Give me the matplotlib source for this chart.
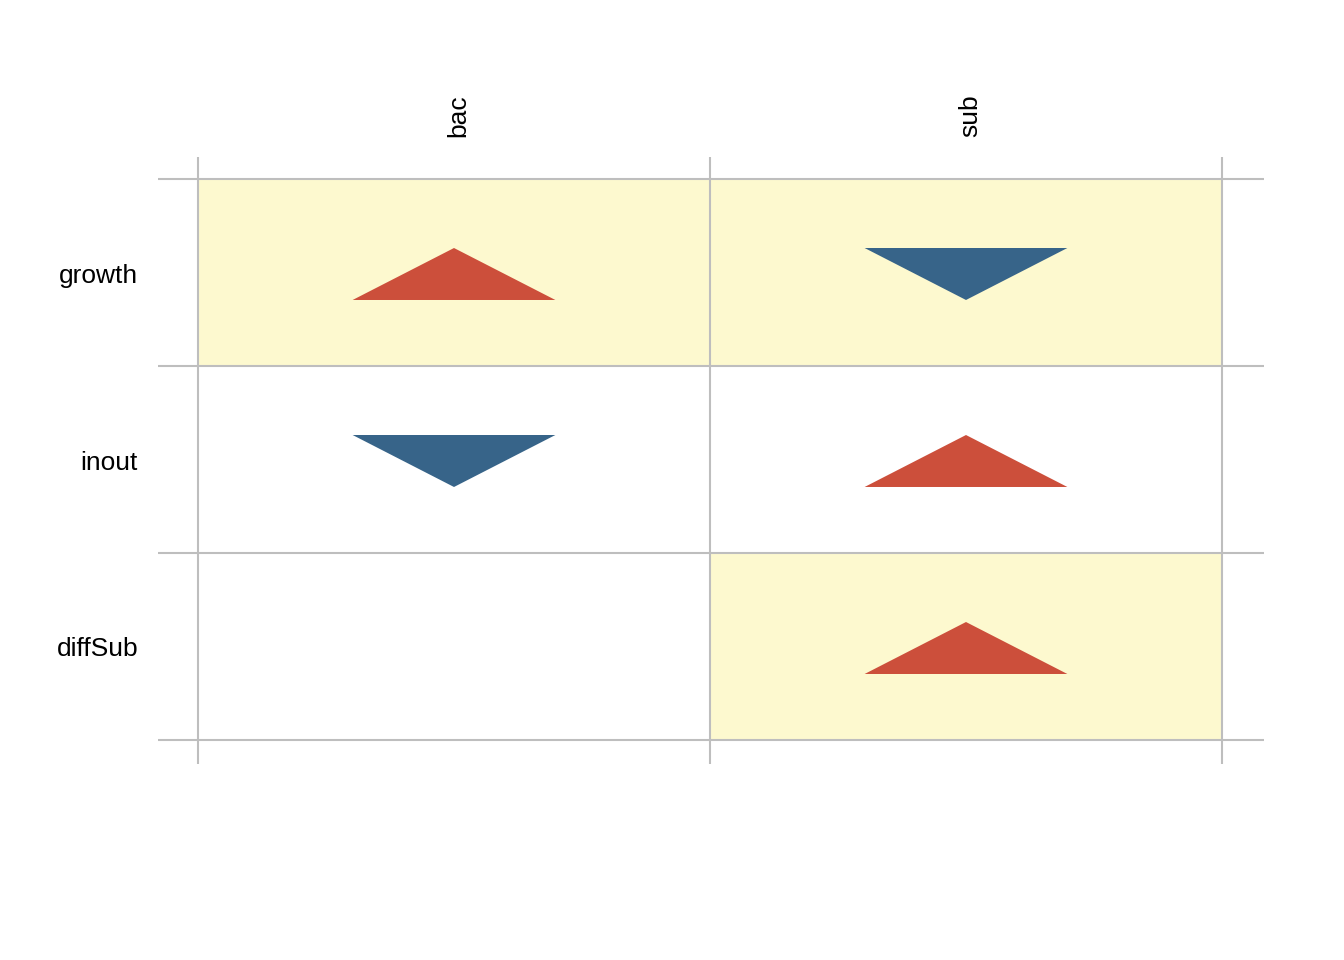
import numpy as np
import matplotlib
matplotlib.use("Agg")
import matplotlib.pyplot as plt
from matplotlib.patches import Polygon, Rectangle

plt.rcParams['font.family'] = ['Liberation Sans', 'DejaVu Sans']

cols = ['bac', 'sub']
rows = ['growth', 'inout', 'diffSub']
# +1 = up (red), -1 = down (blue), 0 = nothing
direction = [[1, -1],
             [-1, 1],
             [0, 1]]
# highlighted cells (yellow background)
highlight = [[1, 1],
             [0, 0],
             [0, 1]]

up_col = '#CC4F3B'
down_col = '#376489'
bg_col = '#FDF9CF'
grid_col = '#BEBEBE'

W, H = 1344, 960
fig = plt.figure(figsize=(W / 100, H / 100), dpi=100)
ax = fig.add_axes([198 / W, 220 / H, 1024 / W, 561 / H])
ax.set_xlim(0, len(cols))
ax.set_ylim(len(rows), 0)
ax.axis('off')

half_w = 0.198
half_h = 0.139
shift = 0.008

for i, r in enumerate(rows):
    for j, c in enumerate(cols):
        if highlight[i][j]:
            ax.add_patch(Rectangle((j, i), 1, 1, fc=bg_col, ec='none', zorder=0))
        d = direction[i][j]
        cx, cy = j + 0.5, i + 0.5 + shift
        if d > 0:
            pts = [(cx - half_w, cy + half_h), (cx + half_w, cy + half_h), (cx, cy - half_h)]
            ax.add_patch(Polygon(pts, closed=True, fc=up_col, ec='none', zorder=2))
        elif d < 0:
            pts = [(cx - half_w, cy - half_h), (cx + half_w, cy - half_h), (cx, cy + half_h)]
            ax.add_patch(Polygon(pts, closed=True, fc=down_col, ec='none', zorder=2))

# grid lines extending past the panel
for k in range(len(rows) + 1):
    ax.plot([-40 / 512, len(cols) + 42 / 512], [k, k], color=grid_col, lw=1.5,
            clip_on=False, zorder=1, solid_capstyle='butt')
for k in range(len(cols) + 1):
    ax.plot([k, k], [-22 / 187, len(rows) + 24 / 187], color=grid_col, lw=1.5,
            clip_on=False, zorder=1, solid_capstyle='butt')

for j, c in enumerate(cols):
    ax.text(j + 0.5 + 4 / 512, -42 / 187, c, rotation=90, ha='center', va='bottom', fontsize=19)
for i, r in enumerate(rows):
    ax.text(-60 / 512, i + 0.5 + 3 / 187, r, ha='right', va='center', fontsize=19)

fig.savefig('out.png', dpi=100)
